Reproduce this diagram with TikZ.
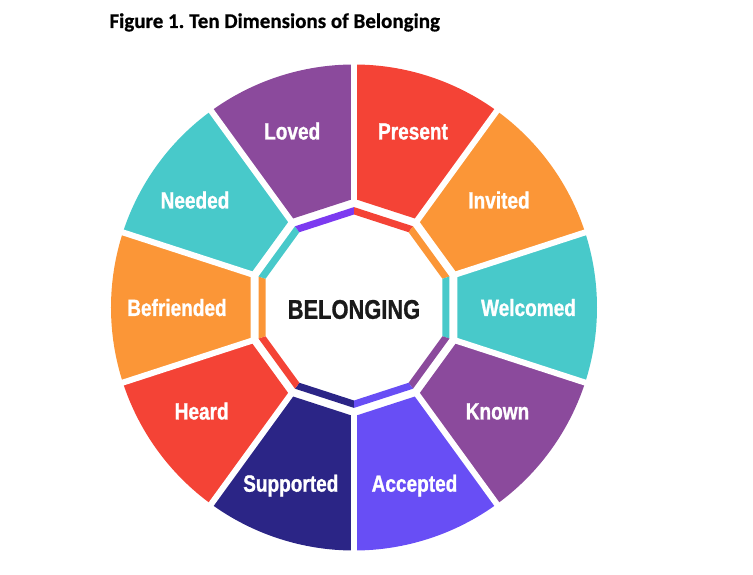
\documentclass[tikz,border=0pt]{standalone}
\usepackage{fontspec}
\usepackage{xcolor}
\usepackage{tikz}
\newfontfamily\labelfont{Liberation Sans}[FakeStretch=0.81, BoldFeatures={FakeBold=1}]
\newfontfamily\titlefont{Carlito}[BoldFeatures={FakeBold=0.6}]

\definecolor{segred}{HTML}{F44336}
\definecolor{segorange}{HTML}{FB9637}
\definecolor{segcyan}{HTML}{48C9CA}
\definecolor{segpurple}{HTML}{8B4A9C}
\definecolor{segviolet}{HTML}{684EF5}
\definecolor{segnavy}{HTML}{2B2586}
\definecolor{barviolet}{HTML}{7C3AF0}
\definecolor{centertext}{HTML}{1A1A1A}

\begin{document}
\begin{tikzpicture}[
    seg label/.style={anchor=base, text=white, font=\labelfont\bfseries\fontsize{23.5}{23.5}\selectfont},
    gap line/.style={white, line width=6pt}]
    \useasboundingbox (-354pt,-267.5pt) rectangle (399pt,307.5pt);

    % Segmen luar, batang dalam dan label
    \foreach \ang/\lbl/\segc/\barc/\lx/\ly in {72/Present/segred/segred/59/168,
        36/Invited/segorange/segorange/145/99, 0/Welcomed/segcyan/segcyan/174.5/-8.5,
        -36/Known/segpurple/segpurple/143.5/-112, -72/Accepted/segviolet/segviolet/60.5/-184.2,
        -108/Supported/segnavy/segnavy/-63.2/-184.2, -144/Heard/segred/segred/-152.3/-112,
        180/Befriended/segorange/segorange/-177/-8.5, 144/Needed/segcyan/segcyan/-159/99,
        108/Loved/segpurple/barviolet/-61.8/168}{
        \pgfmathsetmacro{\lo}{\ang-18}
        \pgfmathsetmacro{\hi}{\ang+18}
        \fill[\segc] (\lo:108.8pt) -- (\lo:243pt) arc[start angle=\lo, end angle=\hi, radius=243pt]
            -- (\hi:108.8pt) -- cycle;
        \fill[\barc] (\lo:93pt) -- (\lo:100.4pt) -- (\hi:100.4pt) -- (\hi:93pt) -- cycle;
        \node[seg label] (\lbl) at (\lx pt,\ly pt) {\lbl};
    }

    % Celah putih antar segmen
    \foreach \k in {0,...,9}
        \draw[gap line] (90+36*\k:102pt) -- (90+36*\k:250pt);

    \node[text=centertext, font=\labelfont\bfseries\fontsize{27}{27}\selectfont] (belonging) at (0pt,-2pt) {BELONGING};

    \node[anchor=base west, font=\titlefont\bfseries\fontsize{21}{21}\selectfont] (title) at (-248pt,279.5pt)
        {Figure 1.\hspace{-1.5pt} Ten Dimensions of Belonging};
\end{tikzpicture}
\end{document}
